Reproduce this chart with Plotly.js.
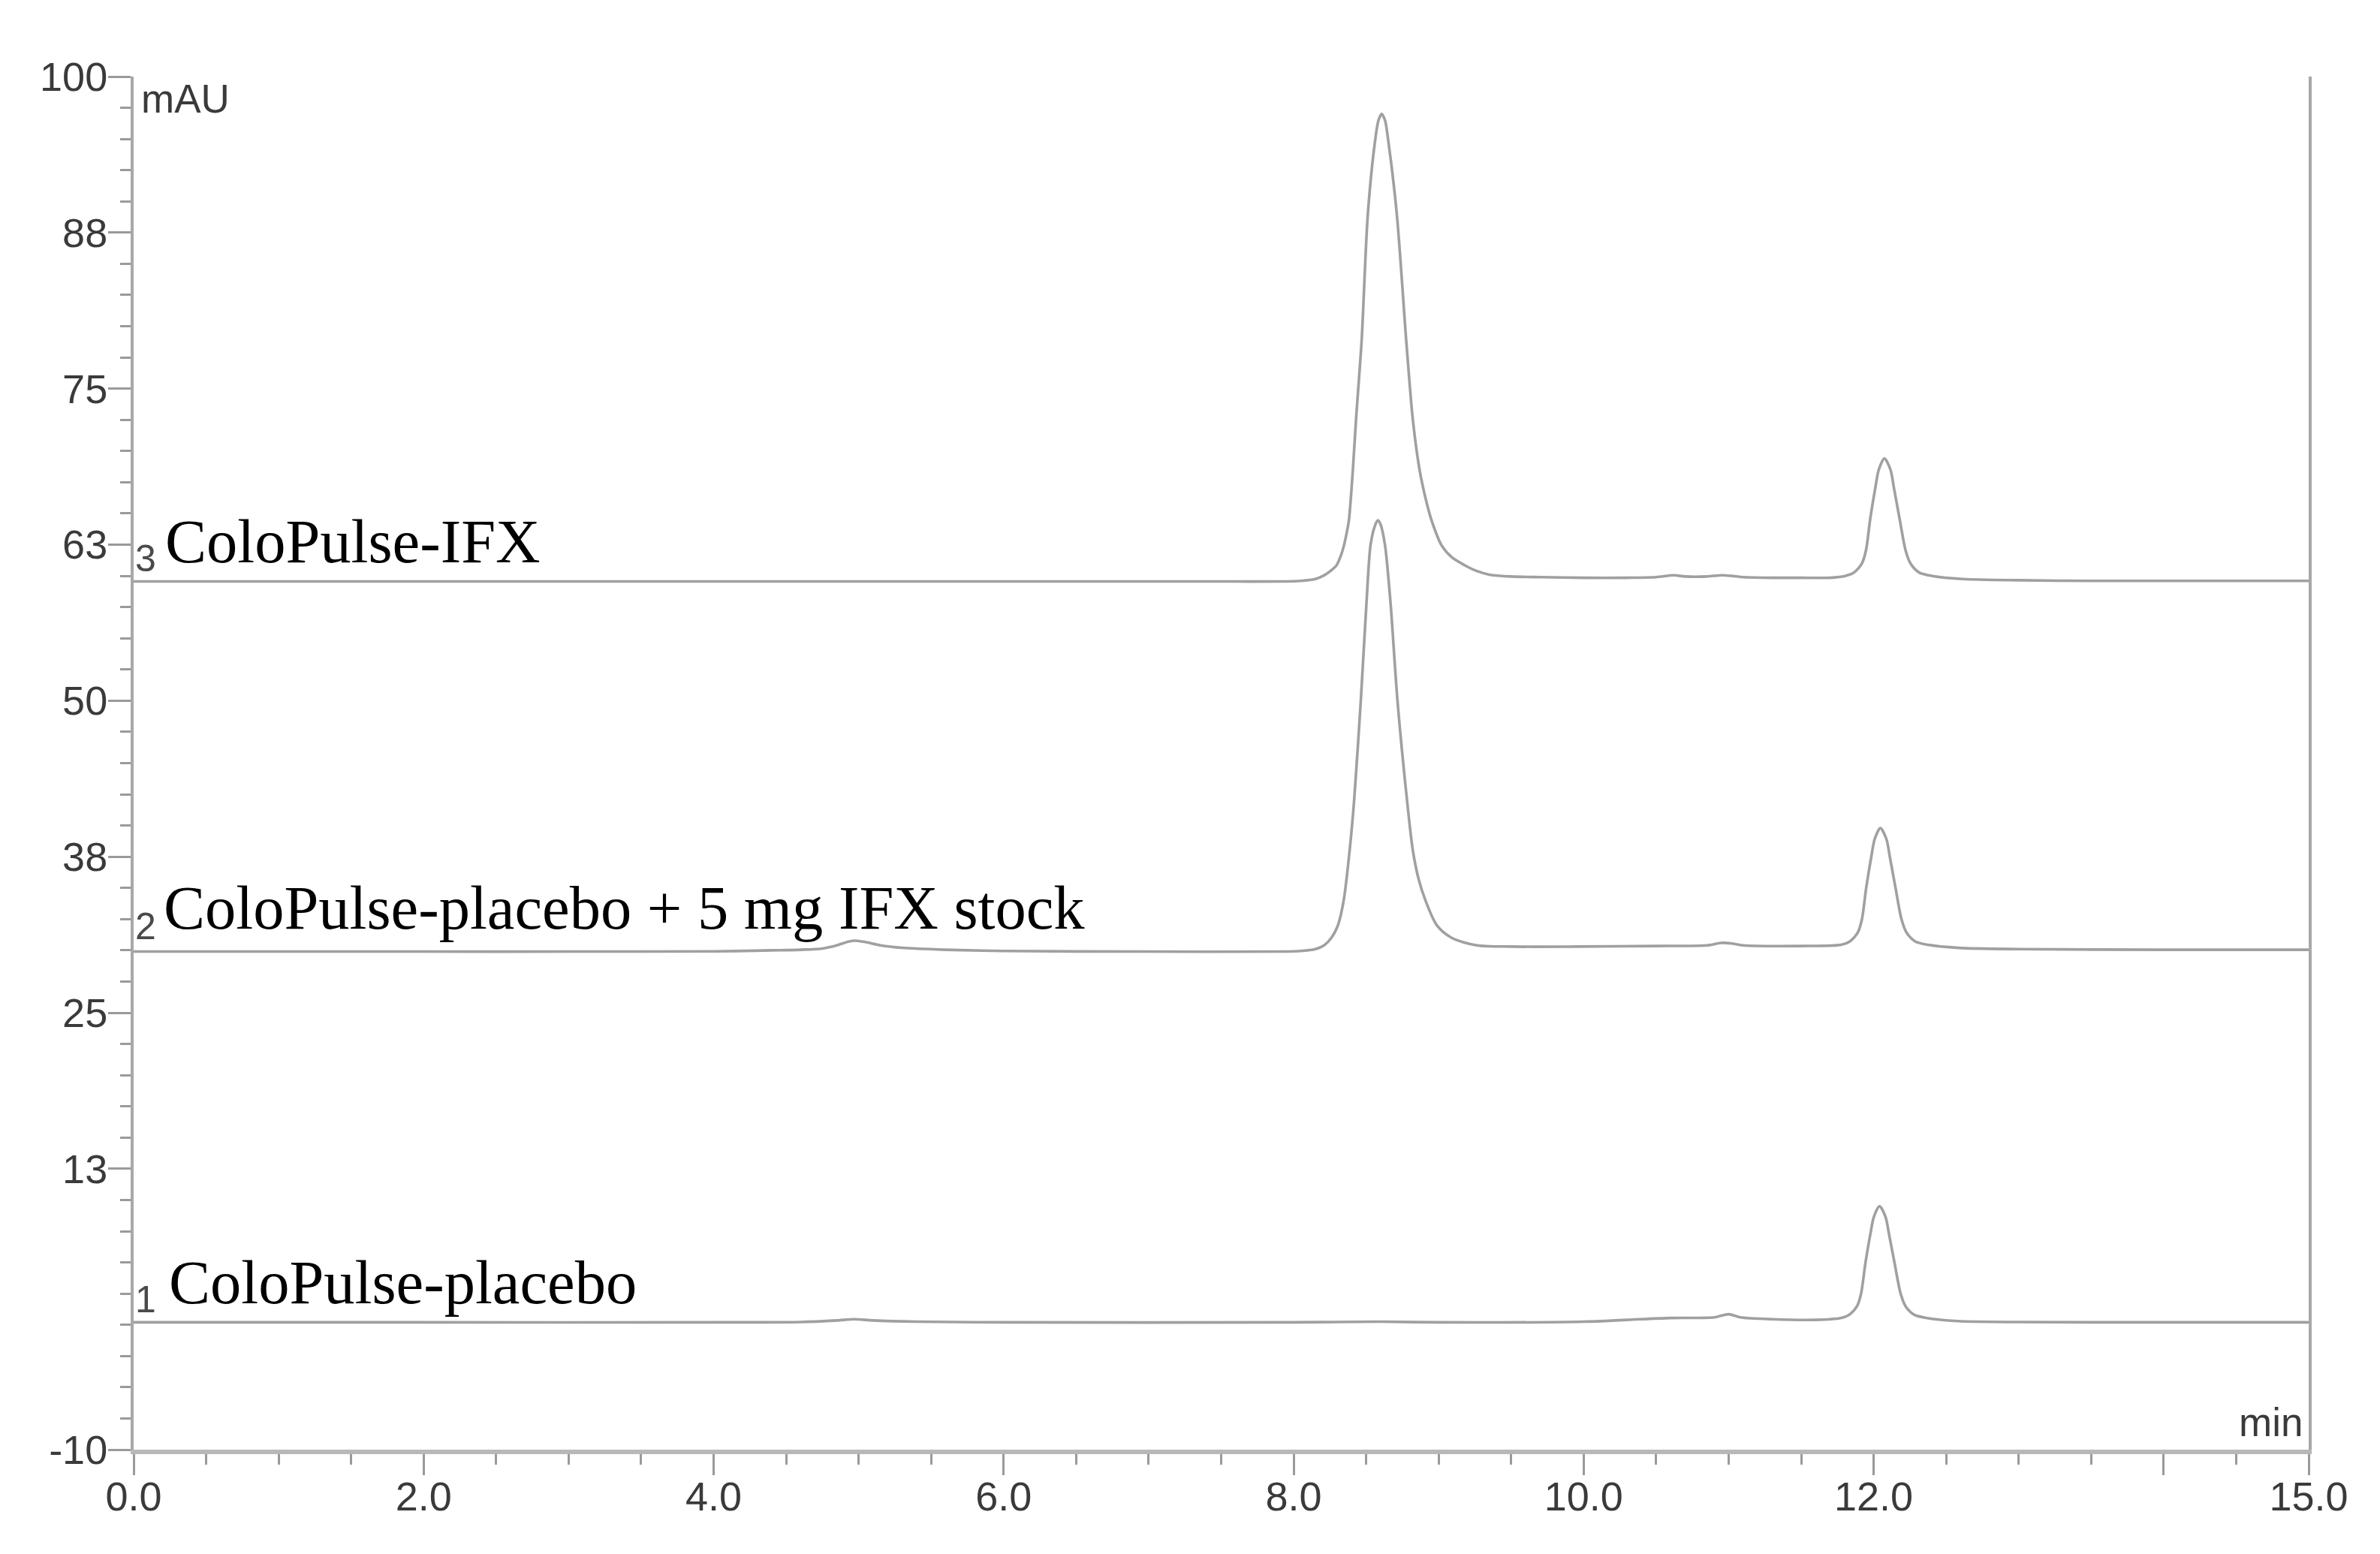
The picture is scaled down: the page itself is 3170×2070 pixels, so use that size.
<!DOCTYPE html>
<html>
<head>
<meta charset="utf-8">
<script src="https://cdn.plot.ly/plotly-3.0.1.min.js"></script>
<style>
  html, body { margin: 0; padding: 0; background: #ffffff; }
  #chart { width: 3170px; height: 2070px; }
</style>
</head>
<body>
<div id="chart"></div>
<script>
// ---- Data (time in min, absorbance in mAU, offset traces) ----
const traceNames = ["ColoPulse-IFX", "ColoPulse-placebo + 5 mg IFX stock", "ColoPulse-placebo"];
const traceNumbers = ["3", "2", "1"];

// Trace 3: ColoPulse-IFX
const t3 = [0, 1, 2, 3, 4, 5, 6, 7, 7.6, 7.9, 8.05, 8.15, 8.21, 8.26, 8.296, 8.325, 8.347, 8.365, 8.381, 8.408, 8.43, 8.469, 8.511, 8.562, 8.585, 8.607, 8.63, 8.652, 8.712, 8.776, 8.822, 8.869, 8.91, 8.951, 9.02, 9.09, 9.18, 9.26, 9.35, 9.5, 9.7, 10.0, 10.3, 10.5, 10.62, 10.7, 10.85, 10.95, 11.02, 11.1, 11.3, 11.5, 11.7, 11.804, 11.864, 11.919, 11.947, 11.977, 12.012, 12.035, 12.074, 12.116, 12.139, 12.178, 12.22, 12.254, 12.314, 12.404, 12.614, 13.0, 13.5, 14.0, 14.5, 15.0];
const y3 = [59.55, 59.55, 59.55, 59.55, 59.55, 59.55, 59.55, 59.55, 59.55, 59.55, 59.6, 59.75, 60.04, 60.45, 60.85, 61.6, 62.45, 63.4, 64.45, 68.45, 72.5, 78.9, 88.9, 94.9, 96.5, 97.0, 96.5, 94.9, 88.9, 78.9, 72.5, 68.45, 66.2, 64.45, 62.45, 61.5, 60.85, 60.4, 60.1, 59.95, 59.9, 59.85, 59.85, 59.9, 60.05, 59.95, 59.95, 60.05, 60.0, 59.9, 59.85, 59.85, 59.85, 59.99, 60.27, 61.0, 62.05, 64.63, 67.1, 68.5, 69.4, 68.5, 67.1, 64.63, 62.05, 61.0, 60.27, 59.99, 59.75, 59.65, 59.6, 59.6, 59.6, 59.6];

// Trace 2: ColoPulse-placebo + 5 mg IFX stock
const t2 = [0, 1, 2, 3, 4, 4.4, 4.6, 4.75, 4.85, 4.93, 4.98, 5.05, 5.15, 5.3, 5.6, 6.0, 7.0, 7.9, 8.05, 8.15, 8.21, 8.26, 8.305, 8.345, 8.386, 8.417, 8.463, 8.503, 8.53, 8.56, 8.581, 8.6, 8.63, 8.667, 8.716, 8.782, 8.822, 8.862, 8.909, 8.988, 9.09, 9.263, 9.5, 9.95, 10.5, 10.85, 10.95, 11.02, 11.1, 11.5, 11.776, 11.836, 11.891, 11.919, 11.949, 11.984, 12.007, 12.046, 12.088, 12.111, 12.15, 12.192, 12.226, 12.286, 12.376, 12.586, 13.0, 14.0, 15.0];
const y2 = [29.9, 29.9, 29.9, 29.9, 29.92, 30.0, 30.05, 30.15, 30.4, 30.7, 30.78, 30.65, 30.4, 30.2, 30.05, 29.95, 29.9, 29.9, 29.95, 30.1, 30.4, 31.0, 32.0, 34.0, 38.0, 42.0, 50.0, 58.0, 62.45, 64.0, 64.45, 64.1, 62.45, 58.0, 50.0, 42.0, 38.0, 35.7, 34.0, 32.0, 31.0, 30.4, 30.3, 30.3, 30.35, 30.4, 30.6, 30.55, 30.4, 30.35, 30.44, 30.72, 31.44, 32.49, 35.05, 37.52, 38.91, 39.8, 38.91, 37.52, 35.05, 32.49, 31.44, 30.72, 30.44, 30.2, 30.1, 30.05, 30.05];

// Trace 1: ColoPulse-placebo
const t1 = [0, 2, 4, 4.6, 4.85, 4.97, 5.1, 5.4, 6.0, 8.0, 8.6, 9.0, 10.0, 10.3, 10.6, 10.9, 11.0, 11.08, 11.3, 11.6, 11.77, 11.83, 11.885, 11.913, 11.943, 11.978, 12.001, 12.04, 12.082, 12.105, 12.144, 12.186, 12.22, 12.28, 12.37, 12.58, 13.0, 14.0, 15.0];
const y1 = [0.2, 0.2, 0.2, 0.22, 0.35, 0.45, 0.35, 0.25, 0.2, 0.2, 0.25, 0.2, 0.25, 0.4, 0.55, 0.6, 0.85, 0.6, 0.45, 0.4, 0.54, 0.8, 1.49, 2.49, 4.95, 7.32, 8.64, 9.5, 8.64, 7.32, 4.95, 2.49, 1.49, 0.8, 0.54, 0.3, 0.22, 0.2, 0.2];

// Axis ticks
const xTickVals = [0, 2, 4, 6, 8, 10, 12, 14, 15];
const xTickText = ["0.0", "2.0", "4.0", "6.0", "8.0", "10.0", "12.0", "", "15.0"];
const yTickVals = [100, 87.5, 75, 62.5, 50, 37.5, 25, 12.5, -10];
const yTickText = ["100", "88", "75", "63", "50", "38", "25", "13", "-10"];

// ---- Build chart ----
const lineStyle = { color: "#a0a0a0", width: 3.6, shape: "spline", smoothing: 0.8 };
const series = [[t3, y3], [t2, y2], [t1, y1]];
const data = series.map(function (s, i) {
  return { x: s[0], y: s[1], type: "scatter", mode: "lines", name: traceNames[i],
           line: lineStyle, hoverinfo: "skip" };
});

// label anchor positions (axis units)
const nameLabelPos = [[0.205, 62.75], [0.195, 33.4], [0.235, 3.4]];
const numLabelPos = [[0.082, 61.4], [0.085, 31.9], [0.085, 2.0]];

const annotations = [];
traceNames.forEach(function (n, i) {
  annotations.push({ xref: "x", yref: "y", x: nameLabelPos[i][0], y: nameLabelPos[i][1],
    text: n, showarrow: false, xanchor: "left", yanchor: "middle",
    font: { family: "Liberation Serif, Times New Roman, serif", size: 82.5, color: "#000000" } });
  annotations.push({ xref: "x", yref: "y", x: numLabelPos[i][0], y: numLabelPos[i][1],
    text: traceNumbers[i], showarrow: false, xanchor: "center", yanchor: "middle",
    font: { family: "Liberation Sans, Arial, sans-serif", size: 50, color: "#4a4a4a" } });
});
annotations.push({ xref: "x", yref: "y", x: 0.04, y: 98.2, text: "mAU", showarrow: false,
  xanchor: "left", yanchor: "middle",
  font: { family: "Liberation Sans, Arial, sans-serif", size: 53, color: "#3a3a3a" } });
annotations.push({ xref: "x", yref: "y", x: 14.97, y: -7.8, text: "min", showarrow: false,
  xanchor: "right", yanchor: "middle",
  font: { family: "Liberation Sans, Arial, sans-serif", size: 53, color: "#3a3a3a" } });

const tickFont = { family: "Liberation Sans, Arial, sans-serif", size: 54, color: "#3a3a3a" };

const layout = {
  width: 3170, height: 2070,
  margin: { l: 178, r: 95, t: 102, b: 139, pad: 0 },
  paper_bgcolor: "#ffffff", plot_bgcolor: "#ffffff",
  showlegend: false,
  xaxis: {
    range: [0, 15], showgrid: false, zeroline: false,
    showline: true, linecolor: "#b8b8b8", linewidth: 6, mirror: false,
    tickmode: "array", tickvals: xTickVals, ticktext: xTickText,
    ticks: "outside", ticklen: 28, tickwidth: 3, tickcolor: "#9a9a9a",
    ticklabelstandoff: -18,
    minor: { dtick: 0.5, tick0: 0, ticklen: 14, tickwidth: 3, tickcolor: "#9a9a9a", ticks: "outside" },
    tickfont: tickFont
  },
  yaxis: {
    range: [-10, 100], showgrid: false, zeroline: false,
    showline: true, linecolor: "#a8a8a8", linewidth: 4, mirror: true,
    tickmode: "array", tickvals: yTickVals, ticktext: yTickText,
    ticks: "outside", ticklen: 30, tickwidth: 3, tickcolor: "#9a9a9a",
    ticklabelstandoff: -10,
    minor: { dtick: 2.5, tick0: 0, ticklen: 14, tickwidth: 3, tickcolor: "#9a9a9a", ticks: "outside" },
    tickfont: tickFont
  },
  annotations: annotations
};

Plotly.newPlot("chart", data, layout, { staticPlot: true, displayModeBar: false });
</script>
</body>
</html>
